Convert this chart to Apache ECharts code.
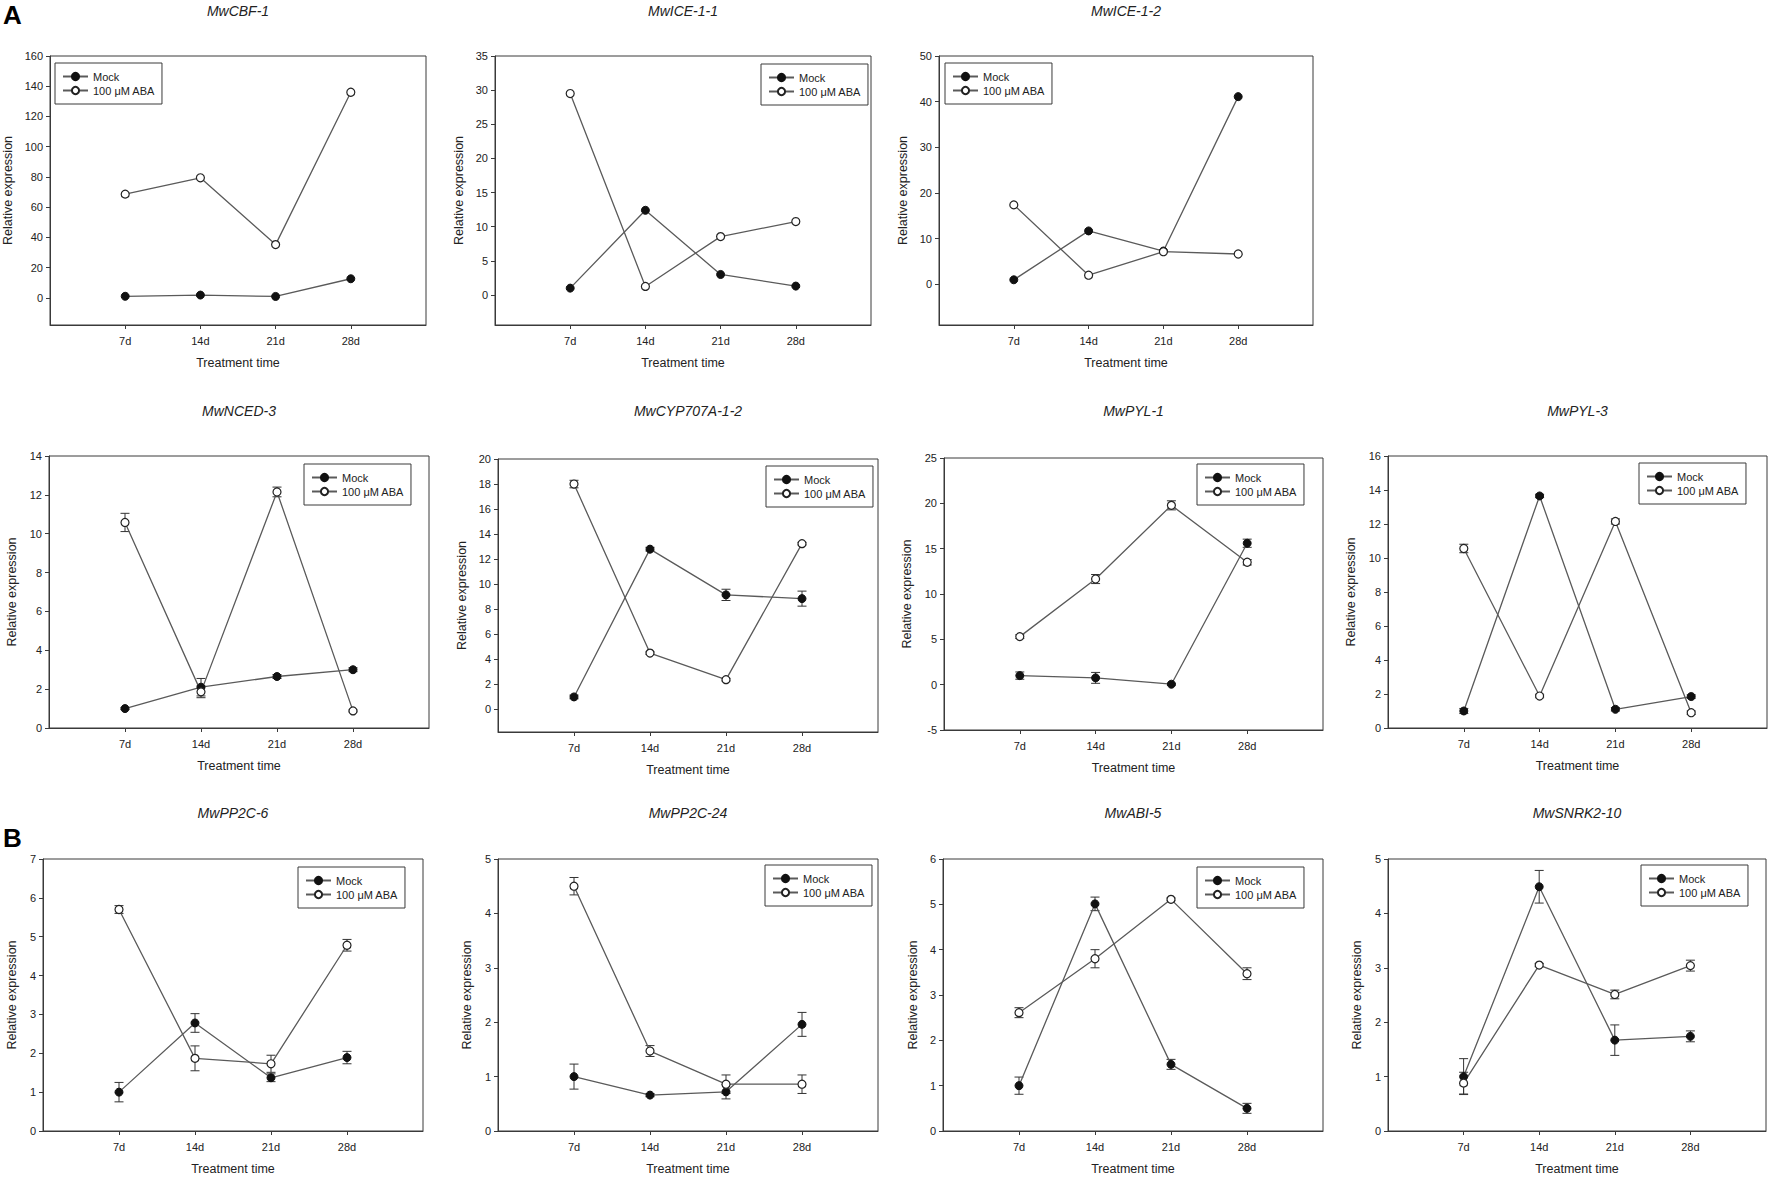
<!DOCTYPE html>
<html>
<head>
<meta charset="utf-8">
<title>Relative expression</title>
<script src="https://cdn.jsdelivr.net/npm/echarts@6/dist/echarts.min.js"></script>
<style>
html, body { margin: 0; padding: 0; background: #fff; }
#main { width: 1772px; height: 1182px; }
</style>
</head>
<body>
<div id="main"></div>
<script>
// 数据：处理时间、基因、两组均值与误差
var days = ['7d', '14d', '21d', '28d'];
var genes = ['MwCBF-1', 'MwICE-1-1', 'MwICE-1-2', 'MwNCED-3', 'MwCYP707A-1-2', 'MwPYL-1', 'MwPYL-3',
             'MwPP2C-6', 'MwPP2C-24', 'MwABI-5', 'MwSNRK2-10'];
var seriesNames = ['Mock', '100 μM ABA'];

var mockMean = [
    [1.0, 1.8, 0.9, 12.6],
    [1.0, 12.4, 3.0, 1.3],
    [1.0, 11.7, 7.3, 41.1],
    [1.0, 2.1, 2.65, 3.0],
    [1.0, 12.8, 9.15, 8.85],
    [1.0, 0.75, 0.05, 15.6],
    [1.0, 13.65, 1.1, 1.85],
    [1.0, 2.78, 1.37, 1.89],
    [1.0, 0.66, 0.72, 1.96],
    [1.0, 5.01, 1.47, 0.5],
    [1.0, 4.49, 1.67, 1.74]
];
var mockErr = [
    [0, 0, 0, 0],
    [0, 0, 0, 0],
    [0, 0, 0, 0],
    [0.05, 0.45, 0.1, 0.1],
    [0.15, 0.15, 0.45, 0.6],
    [0.4, 0.6, 0.1, 0.45],
    [0.15, 0.1, 0.1, 0.1],
    [0.25, 0.24, 0.1, 0.16],
    [0.23, 0.03, 0.13, 0.22],
    [0.19, 0.15, 0.11, 0.11],
    [0.33, 0.3, 0.28, 0.1]
];
var abaMean = [
    [68.6, 79.4, 35.2, 136.0],
    [29.5, 1.25, 8.55, 10.75],
    [17.4, 2.0, 7.15, 6.65],
    [10.58, 1.86, 12.15, 0.88],
    [18.0, 4.5, 2.38, 13.24],
    [5.3, 11.65, 19.78, 13.5],
    [10.56, 1.88, 12.15, 0.9],
    [5.7, 1.87, 1.73, 4.78],
    [4.5, 1.47, 0.86, 0.86],
    [2.61, 3.8, 5.11, 3.47],
    [0.88, 3.05, 2.51, 3.04]
];
var abaErr = [
    [0, 0, 0, 0],
    [0, 0, 0, 0],
    [0, 0, 0, 0],
    [0.47, 0.3, 0.25, 0.05],
    [0.3, 0.1, 0.1, 0.1],
    [0.2, 0.5, 0.5, 0.3],
    [0.25, 0.1, 0.15, 0.1],
    [0.1, 0.32, 0.22, 0.15],
    [0.16, 0.1, 0.17, 0.17],
    [0.11, 0.2, 0.03, 0.13],
    [0.2, 0.03, 0.08, 0.1]
];

// 纵轴范围与刻度间隔
var yMin = [-18, -4.4, -8.9, 0, -1.8, -5, 0, 0, 0, 0, 0];
var yMax = [160, 35, 50, 14, 20, 25, 16, 7, 5, 6, 5];
var yStep = [20, 5, 10, 2, 2, 5, 2, 1, 1, 1, 1];

// 版面：各子图坐标框 [left, top, right, bottom]、图例位置、纵轴标题距离、标题高度
var boxes = [
    [50, 56, 426, 325], [495, 56, 871, 325], [939, 56, 1313, 325],
    [49, 456, 429, 728], [498, 459, 878, 732], [944, 458, 1323, 730], [1388, 456, 1767, 728],
    [43, 859, 423, 1131], [498, 859, 878, 1131], [943, 859, 1323, 1131], [1388, 859, 1766, 1131]
];
var legendPos = [
    [55, 63], [761, 64], [945, 63],
    [304, 464], [766, 466], [1197, 464], [1639, 463],
    [298, 867], [765, 865], [1197, 867], [1641, 865]
];
var nameGaps = [36, 30, 30, 31, 30, 31, 31, 25, 25, 24, 25];
var titleY = [11, 11, 11, 411, 411, 411, 411, 813, 813, 813, 813];

var fontFamily = '"Liberation Sans", Arial, sans-serif';
var axisColor = '#3a3a3a';
var lineColor = '#5a5a5a';
var textColor = '#222';

function tickValues(p) {
    var out = [];
    var v = Math.ceil(yMin[p] / yStep[p] - 1e-9) * yStep[p];
    for (; v <= yMax[p] + 1e-9; v += yStep[p]) {
        out.push(Math.round(v * 1000) / 1000);
    }
    return out;
}

// 误差线（工字形）
function errorBar(params, api) {
    var x = api.value(0);
    var lo = api.coord([x, api.value(1)]);
    var hi = api.coord([x, api.value(2)]);
    var w = 4.5;
    var style = {stroke: '#333', lineWidth: 1};
    return {
        type: 'group',
        children: [
            {type: 'line', shape: {x1: lo[0], y1: lo[1], x2: hi[0], y2: hi[1]}, style: style},
            {type: 'line', shape: {x1: lo[0] - w, y1: lo[1], x2: lo[0] + w, y2: lo[1]}, style: style},
            {type: 'line', shape: {x1: hi[0] - w, y1: hi[1], x2: hi[0] + w, y2: hi[1]}, style: style}
        ]
    };
}

function errData(mean, err) {
    var out = [];
    for (var i = 0; i < days.length; i++) {
        if (err[i] > 0) {
            out.push([i + 1, mean[i] - err[i], mean[i] + err[i]]);
        }
    }
    return out;
}

var chart = echarts.init(document.getElementById('main'), null, {renderer: 'svg'});

var grids = [], xAxes = [], yAxes = [], series = [], legends = [], texts = [];
var xTicks = [1, 2, 3, 4];

for (var p = 0; p < genes.length; p++) {
    var b = boxes[p];
    var yt = tickValues(p);

    grids.push({
        left: b[0], top: b[1], width: b[2] - b[0], height: b[3] - b[1],
        show: true, borderColor: axisColor, borderWidth: 1,
        containLabel: false, outerBoundsMode: 'none'
    });

    xAxes.push({
        type: 'value', gridIndex: p, min: 0, max: 5,
        splitLine: {show: false},
        axisLine: {show: true, onZero: false, lineStyle: {color: axisColor, width: 1}},
        axisTick: {show: true, inside: false, length: 4, customValues: xTicks, lineStyle: {color: axisColor}},
        axisLabel: {
            customValues: xTicks, margin: 10, fontSize: 11, color: textColor, fontFamily: fontFamily,
            formatter: function (v) { return days[Math.round(v) - 1] || ''; }
        },
        name: 'Treatment time', nameLocation: 'middle', nameGap: 31,
        nameTextStyle: {fontSize: 12.5, color: textColor, fontFamily: fontFamily}
    });

    yAxes.push({
        type: 'value', gridIndex: p, min: yMin[p], max: yMax[p],
        splitLine: {show: false},
        axisLine: {show: true, onZero: false, lineStyle: {color: axisColor, width: 1}},
        axisTick: {show: true, inside: false, length: 4, customValues: yt, lineStyle: {color: axisColor}},
        axisLabel: {customValues: yt, margin: 7, fontSize: 11, color: textColor, fontFamily: fontFamily},
        name: 'Relative expression', nameLocation: 'middle', nameGap: nameGaps[p], nameRotate: 90,
        nameTextStyle: {fontSize: 12.5, color: textColor, fontFamily: fontFamily}
    });

    // error bars sit under the symbols
    series.push({
        type: 'custom', xAxisIndex: p, yAxisIndex: p, z: 2, silent: true,
        renderItem: errorBar, encode: {x: 0, y: [1, 2]},
        data: errData(mockMean[p], mockErr[p])
    });
    series.push({
        type: 'custom', xAxisIndex: p, yAxisIndex: p, z: 2, silent: true,
        renderItem: errorBar, encode: {x: 0, y: [1, 2]},
        data: errData(abaMean[p], abaErr[p])
    });

    series.push({
        name: seriesNames[0], type: 'line', xAxisIndex: p, yAxisIndex: p, z: 3,
        data: days.map(function (d, i) { return [i + 1, mockMean[p][i]]; }),
        symbol: 'circle', symbolSize: 8,
        lineStyle: {color: lineColor, width: 1.3},
        itemStyle: {color: '#111', borderColor: '#111', borderWidth: 1},
        emphasis: {disabled: true}
    });
    series.push({
        name: seriesNames[1], type: 'line', xAxisIndex: p, yAxisIndex: p, z: 3,
        data: days.map(function (d, i) { return [i + 1, abaMean[p][i]]; }),
        symbol: 'circle', symbolSize: 8,
        lineStyle: {color: lineColor, width: 1.3},
        itemStyle: {color: '#fff', borderColor: '#222', borderWidth: 1.2},
        emphasis: {disabled: true}
    });

    legends.push({
        data: seriesNames, orient: 'vertical',
        left: legendPos[p][0], top: legendPos[p][1],
        itemWidth: 25, itemHeight: 9, itemGap: 3,
        padding: [8, 7, 8, 7],
        borderColor: axisColor, borderWidth: 1, borderRadius: 0,
        selectedMode: false,
        textStyle: {fontSize: 11, color: textColor, fontFamily: fontFamily}
    });

    texts.push({
        type: 'text', x: (b[0] + b[2]) / 2, y: titleY[p],
        style: {
            text: genes[p], align: 'center', verticalAlign: 'middle',
            fontSize: 14, fontStyle: 'italic', fontFamily: fontFamily, fill: textColor
        }
    });
}

// 分图标记 A / B
texts.push({
    type: 'text', x: 3, y: 15,
    style: {text: 'A', align: 'left', verticalAlign: 'middle', fontSize: 26, fontWeight: 'bold', fontFamily: fontFamily, fill: '#000'}
});
texts.push({
    type: 'text', x: 3, y: 838,
    style: {text: 'B', align: 'left', verticalAlign: 'middle', fontSize: 26, fontWeight: 'bold', fontFamily: fontFamily, fill: '#000'}
});

var option = {
    backgroundColor: '#fff',
    animation: false,
    grid: grids,
    xAxis: xAxes,
    yAxis: yAxes,
    legend: legends,
    graphic: texts,
    series: series
};

chart.setOption(option);
</script>
</body>
</html>
